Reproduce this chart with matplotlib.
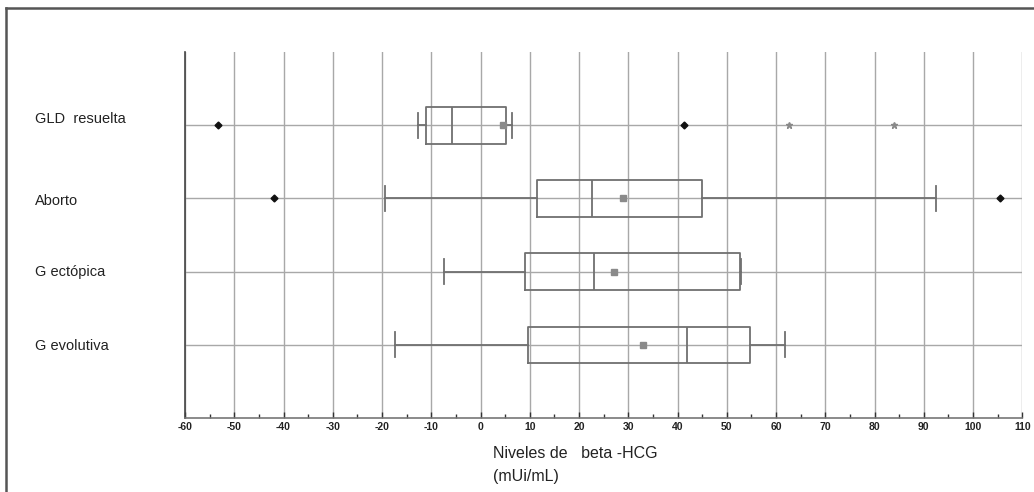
import matplotlib
matplotlib.use("Agg")
import matplotlib.pyplot as plt
from matplotlib.lines import Line2D
from matplotlib.ticker import MultipleLocator
import matplotlib.transforms as mtransforms

# Data (beta-HCG change, mUi/mL)
groups = ['GLD  resuelta', 'Aborto', 'G ectópica', 'G evolutiva']
q1 = [-11.1, 11.5, 9.1, 9.6]
median = [-5.8, 22.6, 23.1, 42.0]
q3 = [5.1, 44.9, 52.6, 54.8]
whis_lo = [-12.7, -19.4, -7.4, -17.3]
whis_hi = [6.3, 92.4, 52.8, 61.8]
means = [4.5, 28.9, 27.2, 32.9]
outliers = [[-53.2, 41.4], [-41.9, 105.5], [], []]
extremes = [[62.6, 83.9], [], [], []]
x_ticks = list(range(-60, 111, 10))

plt.rcParams['font.family'] = ['Liberation Sans', 'DejaVu Sans']

fig = plt.figure(figsize=(10.34, 4.92), dpi=100)
ax = fig.add_axes([185 / 1034, 1 - 418 / 492, (1022.3 - 185) / 1034, (418 - 52) / 492])

# top group is drawn highest
ypos = [4, 3, 2, 1]

stats = []
for i, g in enumerate(groups):
    stats.append({
        'label': g, 'q1': q1[i], 'med': median[i], 'q3': q3[i],
        'whislo': whis_lo[i], 'whishi': whis_hi[i], 'mean': means[i],
        'fliers': outliers[i],
    })

box_col = '#707070'
ax.bxp(stats, positions=ypos, orientation='horizontal', widths=0.5,
       showmeans=True, showfliers=True, capwidths=0.34,
       boxprops=dict(color=box_col, linewidth=1.3),
       medianprops=dict(color=box_col, linewidth=1.3),
       whiskerprops=dict(color=box_col, linewidth=1.3),
       capprops=dict(color=box_col, linewidth=1.3),
       meanprops=dict(marker='s', markersize=4, markerfacecolor='#8a8a8a',
                      markeredgecolor='#8a8a8a'),
       flierprops=dict(marker='D', markersize=3.5, markerfacecolor='#111111',
                       markeredgecolor='#111111', linestyle='none'),
       zorder=3)

for i, vals in enumerate(extremes):
    if vals:
        ax.plot(vals, [ypos[i]] * len(vals), linestyle='none', marker='*',
                markersize=5, color='#8a8a8a', zorder=3)

ax.set_xticks(x_ticks)
ax.set_xticklabels([str(v) for v in x_ticks], fontweight='bold')
ax.xaxis.set_minor_locator(MultipleLocator(5))
ax.set_xlim(-60, 110)
ax.set_ylim(0, 5)
ax.set_yticks(ypos)
ax.set_yticklabels([])
ax.tick_params(axis='y', length=0)
ax.tick_params(axis='x', which='major', direction='in', length=4, width=1,
               color='#333333', labelsize=7.5, pad=3, labelcolor='#222222')
ax.tick_params(axis='x', which='minor', direction='in', length=3, width=1,
               color='#333333')

ax.grid(True, which='major', color='#a8a8a8', linewidth=1)
ax.set_axisbelow(True)
for s in ['top', 'right']:
    ax.spines[s].set_visible(False)
ax.spines['left'].set_color('#444444')
ax.spines['bottom'].set_color('#777777')
ax.spines['left'].set_linewidth(1.2)
ax.spines['bottom'].set_linewidth(1.2)

# group labels on the left
trans = mtransforms.blended_transform_factory(fig.transFigure, ax.transData)
offs = [0.09, -0.03, 0.0, -0.02]
for i, g in enumerate(groups):
    ax.text(35 / 1034, ypos[i] + offs[i], g, transform=trans, ha='left',
            va='center', fontsize=10.5, color='#222222')

# axis title
fig.text(493 / 1034, 1 - 453 / 492, 'Niveles de   beta -HCG', ha='left',
         va='center', fontsize=11.5, color='#222222')
fig.text(493 / 1034, 1 - 476 / 492, '(mUi/mL)', ha='left', va='center',
         fontsize=11.5, color='#222222')

# outer frame (left and top edges)
fig.add_artist(Line2D([6 / 1034, 6 / 1034], [0, 1 - 8 / 492],
                      transform=fig.transFigure, color='#555555', linewidth=1.8))
fig.add_artist(Line2D([6 / 1034, 1], [1 - 8 / 492, 1 - 8 / 492],
                      transform=fig.transFigure, color='#555555', linewidth=1.8))

fig.savefig('out.png', dpi=100)
